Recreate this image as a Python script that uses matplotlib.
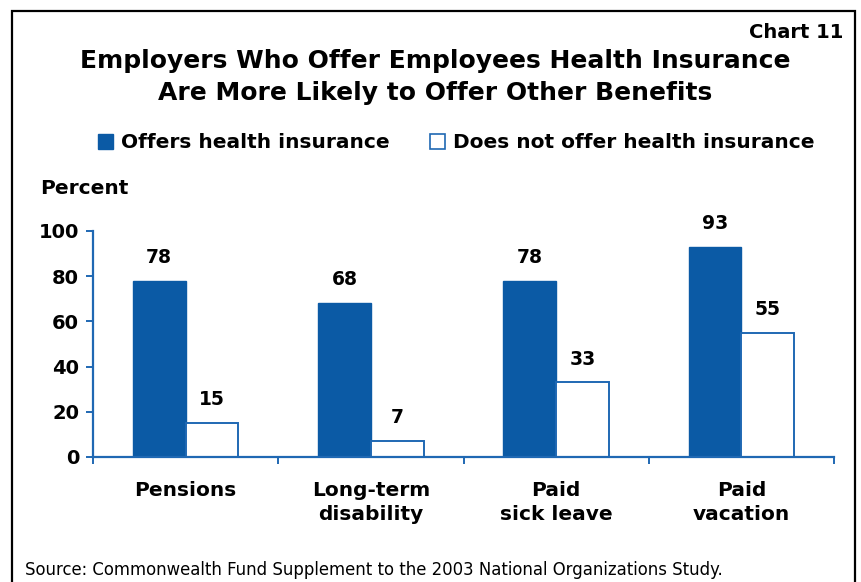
import matplotlib
matplotlib.use("Agg")
import matplotlib.pyplot as plt
from matplotlib.patches import Patch, Rectangle
import numpy as np

# chart data
categories = ["Pensions", "Long-term\ndisability", "Paid\nsick leave", "Paid\nvacation"]
offers_insurance = [78, 68, 78, 93]
no_insurance = [15, 7, 33, 55]
y_ticks = [0, 20, 40, 60, 80, 100]

BLUE = "#0b5aa5"
EDGE = "#1f68b3"

plt.rcParams["font.family"] = ["DejaVu Sans"]
plt.rcParams["font.weight"] = "bold"

W, H = 861, 582
fig = plt.figure(figsize=(W / 100, H / 100), dpi=100)

def fx(px):
    return px / W

def fy(py):
    return 1 - py / H

# outer frame around the chart
fig.patches.append(Rectangle((fx(12), fy(590)), fx(855) - fx(12), fy(11) - fy(590),
                             transform=fig.transFigure, fill=False,
                             edgecolor="black", linewidth=1.6))

ax = fig.add_axes([fx(93), fy(457), fx(834) - fx(93), fy(231) - fy(457)])

x = np.arange(len(categories))
width = 0.285
b1 = ax.bar(x - width / 2, offers_insurance, width, color=BLUE, edgecolor=BLUE, linewidth=1)
b2 = ax.bar(x + width / 2, no_insurance, width, color="white", edgecolor=EDGE, linewidth=1.4)

for bars, vals in ((b1, offers_insurance), (b2, no_insurance)):
    for rect, v in zip(bars, vals):
        ax.annotate(str(v), (rect.get_x() + rect.get_width() / 2, v),
                    xytext=(0, 10), textcoords="offset points",
                    ha="center", va="bottom", fontsize=13.5, fontweight="bold")

ax.set_xlim(-0.5, len(categories) - 0.5)
ax.set_ylim(0, 100)
ax.set_yticks(y_ticks)
ax.set_yticklabels([str(t) for t in y_ticks], fontsize=14, fontweight="bold")
ax.set_xticks(x)
ax.set_xticklabels(categories, fontsize=14.5, fontweight="bold", linespacing=1.35)
ax.set_xticks(np.arange(-0.5, len(categories)), minor=True)
ax.tick_params(axis="x", which="major", length=0, pad=17)
ax.tick_params(axis="x", which="minor", length=5, width=1.4, color=EDGE, direction="out")
ax.tick_params(axis="y", length=5, width=1.4, color=EDGE, direction="out", pad=5)

for side in ("top", "right"):
    ax.spines[side].set_visible(False)
for side in ("left", "bottom"):
    ax.spines[side].set_color(EDGE)
    ax.spines[side].set_linewidth(1.6)

# headings and notes
fig.text(fx(843), fy(33), "Chart 11", ha="right", va="center", fontsize=14, fontweight="bold")
fig.text(fx(435), fy(77), "Employers Who Offer Employees Health Insurance\nAre More Likely to Offer Other Benefits",
         ha="center", va="center", fontsize=18, fontweight="bold", linespacing=1.42)
fig.text(fx(40), fy(188), "Percent", ha="left", va="center", fontsize=14.5, fontweight="bold")
fig.text(fx(25), fy(570), "Source: Commonwealth Fund Supplement to the 2003 National Organizations Study.",
         ha="left", va="center", fontsize=11.9, fontweight="normal")

handles = [Patch(facecolor=BLUE, edgecolor=BLUE),
           Patch(facecolor="white", edgecolor=EDGE, linewidth=1.2)]
fig.legend(handles, ["Offers health insurance", "Does not offer health insurance"],
           loc="center", bbox_to_anchor=(fx(456), fy(143)), ncol=2, frameon=False,
           handlelength=0.75, handleheight=0.75, handletextpad=0.4,
           columnspacing=2.0, prop={"weight": "bold", "size": 14.5})

fig.savefig("out.png", dpi=100)
